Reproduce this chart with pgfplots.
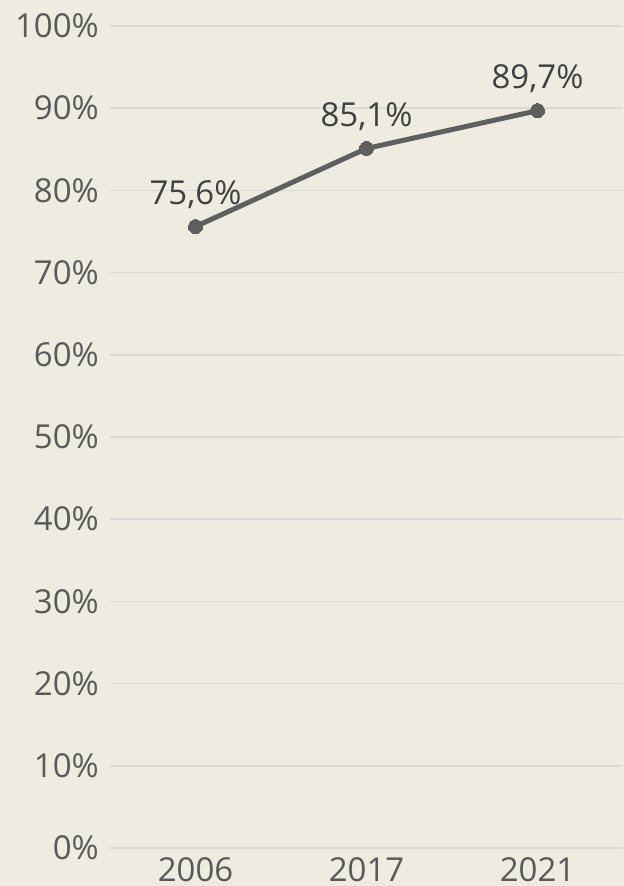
\documentclass[border=0pt]{standalone}
\usepackage{fontspec}
\setmainfont{Open Sans}
\usepackage{pgfplots}
\pgfplotsset{compat=1.18}
\usetikzlibrary{backgrounds,calc}

\definecolor{bg}{HTML}{EEEBE0}
\definecolor{gridc}{HTML}{D9D9D6}
\definecolor{linec}{HTML}{5F5F5F}
\definecolor{tickc}{HTML}{595959}
\definecolor{labc}{HTML}{404040}

\begin{document}
\begin{tikzpicture}[show background rectangle,
  background rectangle/.style={fill=bg,draw=none},
  inner frame sep=0pt]
\begin{axis}[
  name=ax,
  scale only axis,
  width=513pt,
  height=822pt,
  xmin=-0.5, xmax=2.5,
  ymin=0, ymax=100,
  xtick={0,1,2},
  xticklabels={2006,2017,2021},
  ytick={0,10,...,100},
  yticklabel={\pgfmathprintnumber{\tick}\%},
  axis line style={draw=none},
  major tick length=0pt,
  ymajorgrids=true,
  grid style={gridc, line width=1.5pt},
  /pgf/number format/assume math mode=true,
  tick label style={font=\fontsize{33}{40}\selectfont, text=tickc, inner sep=0pt},
  xticklabel style={anchor=north, yshift=-9pt},
  yticklabel style={anchor=east, xshift=-11pt},
  nodes near coords={\pgfmathprintnumber[fixed,fixed zerofill,precision=1,use comma]{\pgfplotspointmeta}\%},
  nodes near coords style={font=\fontsize{33}{40}\selectfont, text=labc, anchor=base, inner sep=0pt, yshift=22pt},
  clip=false,
]
\addplot[linec, line width=5pt, mark=*, mark size=7pt, mark options={fill=linec, draw=linec, line width=0pt}]
  coordinates {(0,75.6) (1,85.1) (2,89.7)};
\end{axis}
\path[use as bounding box] ($(ax.south west)+(-110pt,-38pt)$) rectangle ($(ax.north east)+(0pt,26pt)$);
\end{tikzpicture}
\end{document}
